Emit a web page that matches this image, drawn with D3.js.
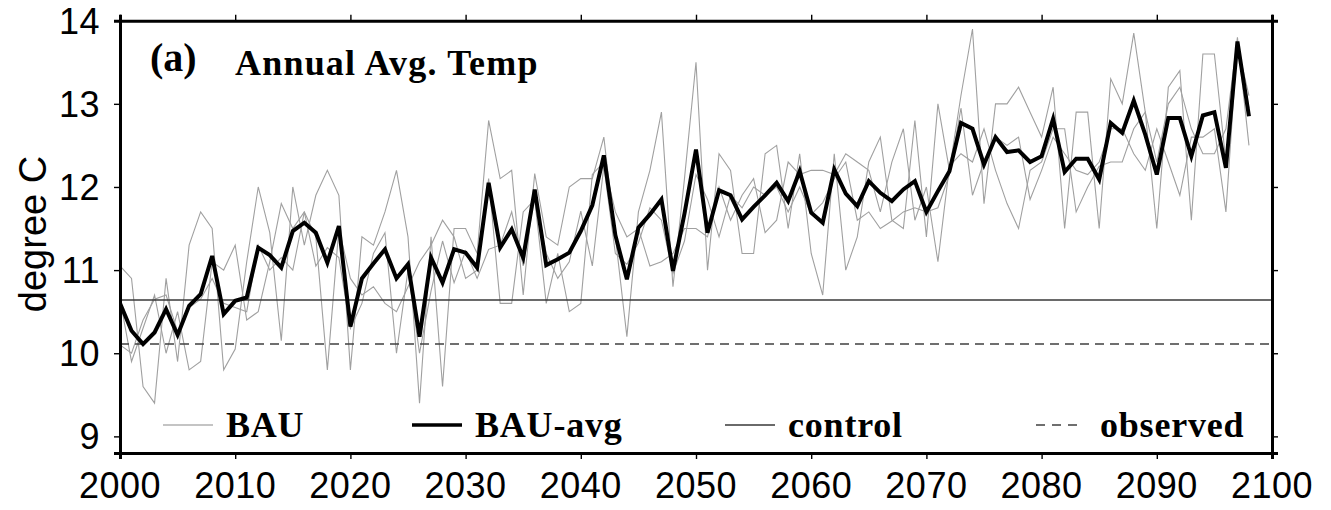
<!DOCTYPE html>
<html>
<head>
<meta charset="utf-8">
<script src="https://cdn.jsdelivr.net/npm/d3@7"></script>
<style>
  body { margin: 0; background: #fff; }
  svg { display: block; }
  .tick-lbl { font-family: "Liberation Sans", Arial, sans-serif; font-size: 36px; fill: #000; }
  .serif { font-family: "Liberation Serif", "Times New Roman", serif; font-weight: bold; fill: #000; }
</style>
</head>
<body>
<div id="chart"></div>
<script>
// annual values, 2000..2098
var years = d3.range(2000, 2099);

var bauRun1 = [11.05, 10.9, 9.6, 9.4, 10.9, 9.9, 11.3, 11.7, 11.5, 9.8,
  10.05, 11.1, 12.0, 11.45, 10.15, 12.0, 11.3, 11.9, 12.2, 11.9,
  9.8, 11.4, 11.3, 11.7, 12.2, 11.4, 9.4, 11.4, 9.6, 11.5,
  11.5, 11.2, 12.8, 12.1, 12.2, 10.7, 12.16, 11.4, 11.3, 12.0,
  12.1, 12.1, 12.6, 11.4, 10.2, 11.7, 12.2, 12.9, 10.8, 12.1,
  13.5, 11.0, 12.4, 12.2, 11.2, 11.2, 12.4, 12.5, 11.5, 12.4,
  11.2, 10.7, 12.4, 11.0, 11.4, 12.3, 12.6, 11.6, 11.5, 12.8,
  11.4, 13.0, 12.2, 13.1, 13.9, 11.8, 13.0, 13.0, 13.2, 12.9,
  12.6, 13.2, 11.5, 12.9, 12.9, 11.5, 13.3, 13.0, 13.85, 12.9,
  11.5, 13.2, 13.4, 11.6, 13.6, 13.6, 12.3, 13.7, 13.1];

var bauRun2 = [10.65, 9.9, 10.3, 10.7, 10.0, 10.5, 9.8, 9.9, 11.1, 11.0,
  11.3, 10.4, 10.5, 11.1, 11.8, 11.5, 11.7, 11.4, 9.8, 11.5,
  10.9, 10.7, 10.8, 10.6, 10.5, 10.8, 11.1, 11.3, 11.6, 11.4,
  10.9, 11.0, 12.1, 10.6, 10.6, 11.7, 11.85, 10.6, 11.2, 10.5,
  10.6, 12.15, 12.3, 11.7, 11.4, 11.5, 11.05, 11.1, 11.2, 11.5,
  11.5, 11.4, 12.0, 11.6, 11.9, 12.1, 11.45, 11.6, 12.3, 12.15,
  12.2, 12.2, 12.15, 12.4, 12.3, 12.2, 11.7, 12.3, 12.7, 11.6,
  12.0, 11.1, 12.25, 12.4, 12.3, 12.7, 12.2, 11.8, 11.5, 12.2,
  12.3, 12.7, 12.7, 11.7, 12.0, 12.25, 12.3, 12.3, 12.7, 12.9,
  12.3, 13.0, 13.2, 12.7, 12.4, 12.4, 12.7, 13.8, 12.5];

var bauRun3 = [10.1, 10.0, 10.4, 10.65, 10.7, 10.26, 10.55, 10.65, 10.9, 10.6,
  10.55, 10.5, 11.3, 11.0, 11.15, 11.0, 11.7, 11.05, 11.27, 11.15,
  10.3, 10.6, 11.2, 11.45, 10.0, 11.0, 10.0, 10.75, 11.35, 10.85,
  11.23, 10.9, 11.25, 11.3, 11.7, 11.05, 11.9, 11.2, 10.9, 11.1,
  11.71, 11.05, 12.25, 11.2, 11.07, 11.33, 11.75, 11.6, 10.96, 11.35,
  12.15, 11.85, 11.4, 11.9, 11.75, 12.0, 11.9, 12.0, 11.7, 12.0,
  11.67, 11.81, 12.1, 12.3, 11.6, 11.7, 11.5, 11.59, 11.7, 11.75,
  11.7, 11.75, 12.15, 12.95, 11.9, 12.3, 12.6, 12.5, 12.6, 11.85,
  12.2, 12.6, 12.4, 12.2, 12.15, 12.3, 12.7, 12.7, 12.4, 12.2,
  12.7, 12.3, 11.9, 12.6, 12.6, 12.7, 11.7, 13.75, 12.95];

var bauAvg = [10.6, 10.27, 10.11, 10.25, 10.53, 10.22, 10.57, 10.71, 11.17, 10.47,
  10.63, 10.67, 11.27, 11.18, 11.03, 11.47, 11.57, 11.45, 11.09, 11.53,
  10.32, 10.9, 11.08, 11.25, 10.9, 11.07, 10.2, 11.15, 10.85, 11.25,
  11.21, 11.03, 12.05, 11.27, 11.49, 11.15, 11.97, 11.06, 11.13, 11.21,
  11.47, 11.78, 12.38, 11.42, 10.89, 11.51, 11.67, 11.85, 10.99, 11.68,
  12.45, 11.45, 11.96, 11.9, 11.61, 11.76, 11.9, 12.05, 11.83, 12.19,
  11.69, 11.57, 12.21, 11.92, 11.77, 12.07, 11.93, 11.83, 11.97, 12.07,
  11.7, 11.95, 12.19, 12.77, 12.7, 12.27, 12.6, 12.42, 12.44, 12.3,
  12.37, 12.82, 12.18, 12.34, 12.34, 12.09, 12.77, 12.65, 13.04, 12.63,
  12.15, 12.83, 12.83, 12.37, 12.86, 12.9, 12.23, 13.75, 12.85];

var controlTemp = 10.64;
var observedTemp = 10.11;

var xTicks = d3.range(2000, 2101, 10);
var yTicks = [9, 10, 11, 12, 13, 14];
var legendNames = ["BAU", "BAU-avg", "control", "observed"];

var W = 1331, H = 510;
var pL = 120, pR = 1272, pT = 20.7, pB = 453;

var svg = d3.select("#chart").append("svg")
    .attr("width", W)
    .attr("height", H);

var x = d3.scaleLinear().domain([2000, 2100]).range([pL, pR]);
var y = d3.scaleLinear().domain([8.8, 14]).range([pB, pT]);

svg.append("clipPath").attr("id", "clip")
  .append("rect")
    .attr("x", pL).attr("y", pT)
    .attr("width", pR - pL).attr("height", pB - pT);

var plot = svg.append("g").attr("clip-path", "url(#clip)");

var line = d3.line()
    .x(function (d, i) { return x(years[i]); })
    .y(function (d) { return y(d); });

// the three BAU runs
plot.selectAll(".run")
    .data([bauRun1, bauRun2, bauRun3])
    .enter()
    .append("path")
    .attr("class", "run")
    .attr("d", line)
    .attr("fill", "none")
    .attr("stroke", "#a0a0a0")
    .attr("stroke-width", 1.1);

// control and observed reference lines
plot.append("line")
    .attr("x1", pL).attr("x2", pR)
    .attr("y1", y(controlTemp)).attr("y2", y(controlTemp))
    .attr("stroke", "#383838")
    .attr("stroke-width", 1.4);

plot.append("line")
    .attr("x1", pL).attr("x2", pR)
    .attr("y1", y(observedTemp)).attr("y2", y(observedTemp))
    .attr("stroke", "#404040")
    .attr("stroke-width", 1.5)
    .attr("stroke-dasharray", "9,6");

// ensemble average
plot.append("path")
    .datum(bauAvg)
    .attr("d", line)
    .attr("fill", "none")
    .attr("stroke", "#000")
    .attr("stroke-width", 4)
    .attr("stroke-linejoin", "miter");

// axes on all four sides
var axB = svg.append("g").attr("transform", "translate(0," + pB + ")")
    .call(d3.axisBottom(x).tickValues(xTicks).tickSize(6).tickFormat(""));
var axT = svg.append("g").attr("transform", "translate(0," + pT + ")")
    .call(d3.axisTop(x).tickValues(xTicks).tickSize(6).tickFormat(""));
var axL = svg.append("g").attr("transform", "translate(" + pL + ",0)")
    .call(d3.axisLeft(y).tickValues(yTicks).tickSize(6).tickFormat(""));
var axR = svg.append("g").attr("transform", "translate(" + pR + ",0)")
    .call(d3.axisRight(y).tickValues(yTicks).tickSize(6).tickFormat(""));

[axB, axT, axL, axR].forEach(function (g) {
    g.select(".domain").attr("stroke", "#000").attr("stroke-width", 3);
    g.selectAll(".tick line").attr("stroke", "#000").attr("stroke-width", 1.4);
});

svg.selectAll(".xlbl")
    .data(xTicks)
    .enter()
    .append("text")
    .attr("class", "tick-lbl")
    .attr("x", function (d) { return x(d); })
    .attr("y", 498)
    .attr("text-anchor", "middle")
    .style("letter-spacing", "0.5px")
    .text(function (d) { return d; });

svg.selectAll(".ylbl")
    .data(yTicks)
    .enter()
    .append("text")
    .attr("class", "tick-lbl")
    .attr("x", 100)
    .attr("y", function (d) { return y(d); })
    .attr("dy", "0.36em")
    .attr("text-anchor", "end")
    .style("letter-spacing", "0.5px")
    .text(function (d) { return d; });

svg.append("text")
    .attr("class", "tick-lbl")
    .attr("transform", "translate(46,234) rotate(-90)")
    .attr("text-anchor", "middle")
    .style("font-size", "38px")
    .text("degree C");

// panel label and title
svg.append("text").attr("class", "serif")
    .attr("x", 150).attr("y", 71)
    .style("font-size", "40px")
    .text("(a)");
svg.append("text").attr("class", "serif")
    .attr("x", 235).attr("y", 75)
    .style("font-size", "36px")
    .style("letter-spacing", "1.2px")
    .text("Annual Avg. Temp");

// legend along the bottom of the plot
var legendX = [163, 412, 725, 1036];
var lg = svg.selectAll(".lg")
    .data(legendNames)
    .enter()
    .append("g")
    .attr("class", "lg")
    .attr("transform", function (d, i) { return "translate(" + legendX[i] + ",425)"; });

lg.append("line")
    .attr("x1", 0).attr("x2", function (d, i) { return i == 3 ? 47 : 50; })
    .attr("y1", 0).attr("y2", 0)
    .attr("stroke", function (d, i) { return ["#b0b0b0", "#000", "#383838", "#404040"][i]; })
    .attr("stroke-width", function (d, i) { return [1.3, 3.4, 1.4, 1.4][i]; })
    .attr("stroke-dasharray", function (d, i) { return i == 3 ? "9,7" : null; });

lg.append("text")
    .attr("class", "serif")
    .attr("x", function (d, i) { return [63, 63, 63, 64][i]; })
    .attr("y", 11.5)
    .style("font-size", "36px")
    .style("letter-spacing", "0.8px")
    .text(function (d) { return d; });
</script>
</body>
</html>
